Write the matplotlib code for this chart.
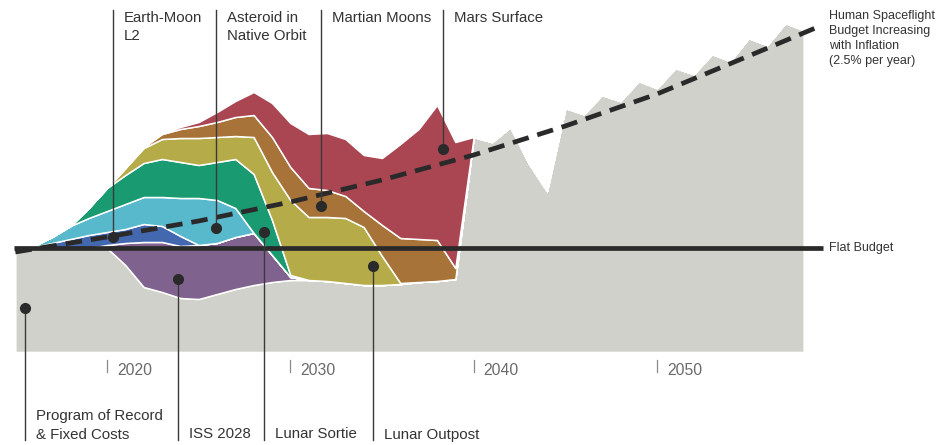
import matplotlib
matplotlib.use("Agg")
import matplotlib.pyplot as plt

plt.rcParams['font.family'] = ['Liberation Sans', 'DejaVu Sans']

# ---- data: annual spending by program (stacked), arbitrary budget units ----
years = list(range(2015, 2059))

program_of_record = [104, 104, 104, 104, 104, 104, 87, 65, 60, 54, 53, 58, 63, 67, 70,
                     72, 72, 71, 69, 67, 67, 68, 70, 71, 73, 215, 210, 225, 189, 161,
                     244, 238, 257, 251, 271, 264, 284, 278, 298, 291, 314, 307, 329, 322]
iss_2028 = [0, 0, 0, 0, 0, 3, 22, 45, 50, 52, 54, 51, 52, 52, 27, 3] + [0] * 28
earth_moon_l2 = [0, 1, 5, 9, 13, 13, 14, 18, 16, 10] + [0] * 34
asteroid = [0, 1, 6, 13, 17, 21, 25, 27, 29, 38, 47, 43, 29] + [0] * 31
lunar_sortie = [0, 0, 0, 0, 10, 23, 29, 34, 38, 36, 33, 38, 49, 59, 35, 2] + [0] * 28
lunar_outpost = [0, 0, 0, 0, 0, 0, 7, 15, 20, 24, 27, 25, 23, 37, 48, 75, 63, 64, 65,
                 58, 29, 1] + [0] * 22
martian_moons = [0, 0, 0, 0, 0, 0, 0, 1, 5, 9, 12, 15, 19, 22, 35, 33, 29, 27, 22, 16,
                 31, 45, 43, 41, 11] + [0] * 19
mars_surface = [0, 0, 0, 0, 0, 0, 0, 0, 1, 2, 4, 10, 16, 23, 34, 44, 54, 57, 57, 56,
                67, 94, 110, 135, 126] + [0] * 19

flat_budget = 104
flat_span = [2014.93, 2059.05]
inflation_years = [2015, 2020, 2025, 2030, 2035, 2040, 2045, 2050, 2055, 2058.9]
inflation_budget = [100, 115, 131, 150, 172, 197, 226, 258, 296, 326]

tick_years = [2020, 2030, 2040, 2050]

layer_colors = ['#d1d1cc', '#80628e', '#4468b0', '#58b8cc',
                '#1a9a70', '#b5ab48', '#a87338', '#aa4552']

# label text and the point (year, value) its leader line points to
top_labels = [
    ("Earth-Moon\nL2", 2020.31, 115),
    ("Asteroid in\nNative Orbit", 2025.95, 124),
    ("Martian Moons", 2031.67, 146),
    ("Mars Surface", 2038.33, 203),
]
bottom_labels = [
    ("Program of Record\n& Fixed Costs", 2015.53, 44),
    ("ISS 2028", 2023.86, 73),
    ("Lunar Sortie", 2028.59, 120),
    ("Lunar Outpost", 2034.53, 86),
]

# ---- figure ----
W, H = 940, 445
fig = plt.figure(figsize=(W / 100, H / 100), dpi=100)
ax = fig.add_axes([0, 0, 1, 1])

PX_2020 = 107.0
PX_PER_YEAR = 18.333
BASE_PY = 352.0


def year_from_px(px):
    return 2020 + (px - PX_2020) / PX_PER_YEAR


def px_from_year(yr):
    return PX_2020 + (yr - 2020) * PX_PER_YEAR


ax.set_xlim(year_from_px(0), year_from_px(W))
ax.set_ylim(BASE_PY - H, BASE_PY)
ax.axis('off')

ink = '#2a2a2a'

ax.stackplot(years, program_of_record, iss_2028, earth_moon_l2, asteroid,
             lunar_sortie, lunar_outpost, martian_moons, mars_surface,
             colors=layer_colors, edgecolor='white', linewidth=1.1, zorder=1)

# flat budget reference
ax.plot(flat_span, [flat_budget, flat_budget], color=ink, lw=3.4,
        solid_capstyle='butt', zorder=3)

# inflation-adjusted budget
ax.plot(inflation_years, inflation_budget, color=ink, lw=3.4,
        dashes=(3.5, 1.9), dash_capstyle='butt', zorder=4)

# leader lines and dots
top_val = BASE_PY - 10
bot_val = BASE_PY - 440
for text, yr, val in top_labels:
    ax.plot([yr, yr], [val, top_val], color='#3a3a3a', lw=1.0, zorder=5)
    ax.plot(yr, val, 'o', color=ink, ms=7, zorder=6)
    fig.text((px_from_year(yr) + 11) / W, 1 - 10.5 / H, text, ha='left', va='top',
             fontsize=10.8, color='#333333', linespacing=1.42)

for text, yr, val in bottom_labels:
    ax.plot([yr, yr], [val, bot_val], color='#3a3a3a', lw=1.0, zorder=5)
    ax.plot(yr, val, 'o', color=ink, ms=7, zorder=6)
    top_py = 409 if '\n' in text else 427.5
    fig.text((px_from_year(yr) + 11) / W, 1 - top_py / H, text, ha='left', va='top',
             fontsize=10.8, color='#333333', linespacing=1.42)

# year ticks
for yr in tick_years:
    ax.plot([yr, yr], [BASE_PY - 360, BASE_PY - 372], color='#8a8a8a', lw=0.9)
    fig.text((px_from_year(yr) + 10) / W, 1 - 363 / H, str(yr), ha='left', va='top',
             fontsize=11.3, color='#6a6a6a')

# right-hand annotations
fig.text(829 / W, 1 - 248 / H, "Flat Budget", ha='left', va='center',
         fontsize=9, color='#333333')
fig.text(829 / W, 1 - 9.5 / H,
         "Human Spaceflight\nBudget Increasing\nwith Inflation\n(2.5% per year)",
         ha='left', va='top', fontsize=9, color='#333333', linespacing=1.36)

fig.savefig('out.png', dpi=100)
